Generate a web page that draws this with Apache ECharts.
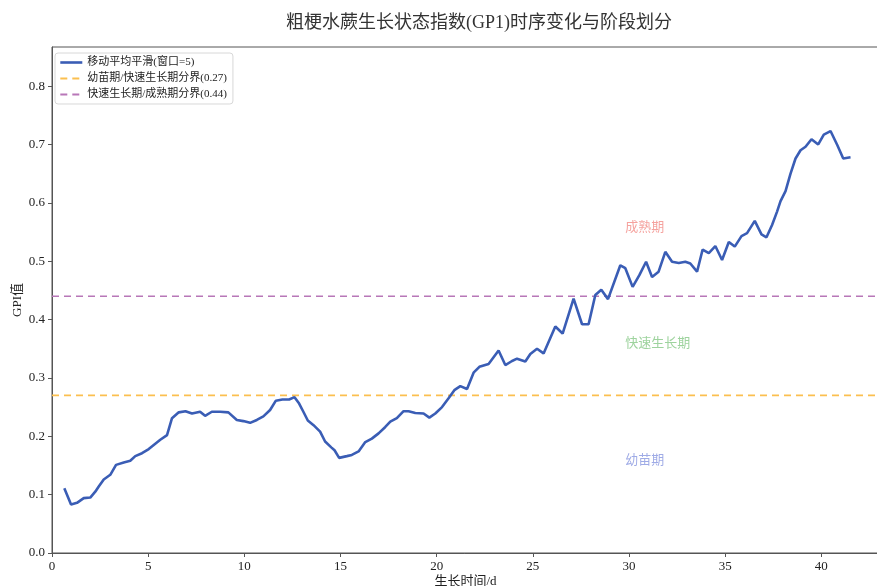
<!DOCTYPE html>
<html>
<head>
<meta charset="utf-8">
<script src="https://cdn.jsdelivr.net/npm/echarts@6/dist/echarts.min.js"></script>
<style>
  html, body { margin: 0; padding: 0; background: #fff; }
  #chart { width: 877px; height: 586px; }
</style>
</head>
<body>
<div id="chart"></div>
<script>
// Sampling times (days) and the 5-point moving-average GPI values
const days = [
  0.64, 0.99, 1.30, 1.65, 1.99, 2.25, 2.43, 2.69, 3.03, 3.33, 3.73, 4.07, 4.33, 4.68, 5.03, 5.29,
  5.63, 5.98, 6.24, 6.59, 6.94, 7.28, 7.70, 7.96, 8.31, 8.74, 9.17, 9.61, 9.95, 10.30, 10.65, 10.99,
  11.34, 11.64, 11.98, 12.33, 12.61, 12.85, 13.07, 13.30, 13.60, 13.94, 14.20, 14.52, 14.69, 14.93,
  15.33, 15.59, 15.94, 16.29, 16.63, 16.98, 17.33, 17.59, 17.93, 18.28, 18.54, 18.89, 19.32, 19.62,
  19.93, 20.28, 20.62, 20.92, 21.23, 21.58, 21.92, 22.22, 22.70, 23.22, 23.57, 23.92, 24.18, 24.61,
  24.87, 25.22, 25.56, 26.17, 26.55, 27.12, 27.56, 27.90, 28.25, 28.56, 28.91, 29.55, 29.81, 30.19,
  30.54, 30.89, 31.20, 31.54, 31.89, 32.24, 32.59, 32.93, 33.19, 33.54, 33.83, 34.15, 34.49, 34.84,
  35.19, 35.50, 35.85, 36.14, 36.54, 36.89, 37.15, 37.44, 37.70, 37.88, 38.14, 38.40, 38.66, 38.92,
  39.18, 39.49, 39.84, 40.13, 40.48, 40.83, 41.14, 41.52
];
const gpiSmooth = [
  0.111, 0.083, 0.086, 0.094, 0.095, 0.105, 0.114, 0.126, 0.134, 0.151, 0.155, 0.158, 0.166, 0.171, 0.178, 0.185,
  0.194, 0.202, 0.231, 0.241, 0.243, 0.239, 0.242, 0.235, 0.242, 0.242, 0.241, 0.228, 0.226, 0.223, 0.228, 0.234,
  0.245, 0.261, 0.263, 0.263, 0.267, 0.256, 0.242, 0.227, 0.219, 0.208, 0.191, 0.181, 0.176, 0.163,
  0.166, 0.168, 0.174, 0.190, 0.196, 0.205, 0.216, 0.225, 0.231, 0.243, 0.243, 0.240, 0.239, 0.232,
  0.239, 0.250, 0.265, 0.279, 0.286, 0.281, 0.309, 0.319, 0.324, 0.347, 0.322, 0.329, 0.333, 0.328,
  0.341, 0.350, 0.342, 0.388, 0.376, 0.436, 0.392, 0.392, 0.442, 0.451, 0.435, 0.493, 0.488, 0.456,
  0.476, 0.499, 0.473, 0.482, 0.516, 0.499, 0.497, 0.499, 0.496, 0.482, 0.520, 0.514, 0.526, 0.502,
  0.533, 0.525, 0.543, 0.548, 0.569, 0.546, 0.541, 0.562, 0.585, 0.603, 0.620, 0.650, 0.676, 0.690,
  0.696, 0.709, 0.700, 0.717, 0.723, 0.699, 0.676, 0.678
];

// Stage thresholds
const seedlingToRapid = 0.27;
const rapidToMature = 0.44;

// Stage annotations
const stageNames = ['成熟期', '快速生长期', '幼苗期'];
const stageDays = [29.8, 29.8, 29.8];
const stageLevels = [0.558, 0.358, 0.158];
const stageColors = ['#f28b86', '#86c886', '#8796e0'];

// Axis setup
const xMin = 0, xMax = 43, xStep = 5;
const yMin = 0, yMax = 0.867, yStep = 0.1;

const serif = "'Liberation Serif', 'Noto Sans CJK SC', serif";
const smoothColor = '#3a5db5';
const lowColor = '#fbbf4f';
const highColor = '#b877b8';
const dash = [7, 5];

const chart = echarts.init(document.getElementById('chart'));

const smoothData = days.map((d, i) => [d, gpiSmooth[i]]);
const stageData = stageNames.map((n, i) => ({
  value: [stageDays[i], stageLevels[i]],
  label: { formatter: n, color: stageColors[i] }
}));

chart.setOption({
  animation: false,
  backgroundColor: '#fff',
  title: {
    text: '粗梗水蕨生长状态指数(GP1)时序变化与阶段划分',
    left: 474,
    top: 9,
    textAlign: 'center',
    textStyle: { fontFamily: serif, fontSize: 18, fontWeight: 'normal', color: '#333' }
  },
  grid: {
    left: 52, top: 47, right: -2, bottom: 33,
    outerBoundsMode: 'none',
    containLabel: false,
    show: true, borderColor: '#555', borderWidth: 1, backgroundColor: '#fff'
  },
  legend: {
    orient: 'vertical',
    left: 55, top: 53,
    itemWidth: 22, itemHeight: 10, itemGap: 5,
    padding: [4, 6, 4, 4],
    borderColor: '#d8d8d8', borderWidth: 1, borderRadius: 3,
    backgroundColor: 'rgba(255,255,255,0.9)',
    itemStyle: { opacity: 0 },
    textStyle: { fontFamily: serif, fontSize: 11, color: '#222' },
    data: [
      { name: '移动平均平滑(窗口=5)', lineStyle: { color: smoothColor, width: 2.6, type: 'solid' } },
      { name: '幼苗期/快速生长期分界(0.27)', lineStyle: { color: lowColor, width: 1.8, type: dash } },
      { name: '快速生长期/成熟期分界(0.44)', lineStyle: { color: highColor, width: 1.8, type: dash } }
    ]
  },
  xAxis: {
    type: 'value', min: xMin, max: xMax, interval: xStep,
    name: '生长时间/d', nameLocation: 'middle', nameGap: 22, nameMoveOverlap: false,
    nameTextStyle: { fontFamily: serif, fontSize: 13, color: '#222' },
    axisLine: { show: true, lineStyle: { color: '#555', width: 1 } },
    axisTick: { show: true, length: 4, lineStyle: { color: '#555' } },
    axisLabel: { fontFamily: serif, fontSize: 13, color: '#222', margin: 7, showMaxLabel: false },
    splitLine: { show: false }
  },
  yAxis: {
    type: 'value', min: yMin, max: yMax, interval: yStep,
    name: 'GPI值', nameLocation: 'middle', nameGap: 28, nameRotate: 90, nameMoveOverlap: false,
    nameTextStyle: { fontFamily: serif, fontSize: 13, color: '#222' },
    axisLine: { show: true, lineStyle: { color: '#555', width: 1 } },
    axisTick: { show: true, length: 4, lineStyle: { color: '#555' } },
    axisLabel: {
      fontFamily: serif, fontSize: 13, color: '#222', margin: 7, showMaxLabel: false,
      formatter: v => v.toFixed(1)
    },
    splitLine: { show: false }
  },
  series: [
    {
      name: '移动平均平滑(窗口=5)',
      type: 'line',
      data: smoothData,
      showSymbol: false,
      symbol: 'none',
      lineStyle: { color: smoothColor, width: 2.6 },
      itemStyle: { color: smoothColor },
      z: 5
    },
    {
      name: '幼苗期/快速生长期分界(0.27)',
      type: 'line',
      data: [[xMin, seedlingToRapid], [xMax, seedlingToRapid]],
      symbol: 'none',
      lineStyle: { color: lowColor, width: 1.6, type: dash },
      itemStyle: { color: lowColor },
      z: 3
    },
    {
      name: '快速生长期/成熟期分界(0.44)',
      type: 'line',
      data: [[xMin, rapidToMature], [xMax, rapidToMature]],
      symbol: 'none',
      lineStyle: { color: highColor, width: 1.6, type: dash },
      itemStyle: { color: highColor },
      z: 3
    },
    {
      name: 'stages',
      type: 'scatter',
      data: stageData,
      symbolSize: 0,
      silent: true,
      label: {
        show: true, position: 'right', distance: 0,
        fontFamily: serif, fontSize: 13
      },
      z: 4
    }
  ]
});
</script>
</body>
</html>
